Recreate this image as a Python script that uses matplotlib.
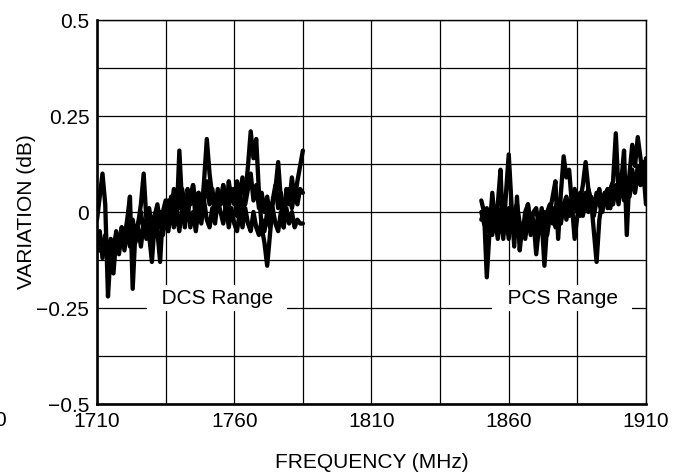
import numpy as np
import matplotlib
matplotlib.use("Agg")
import matplotlib.pyplot as plt

plt.rcParams['font.family'] = ['Liberation Sans', 'DejaVu Sans']

# ---------------- data ----------------
dcs_freq = np.arange(1710, 1786, 1)
dcs_a = [-0.02, 0.04, 0.10, 0.02, -0.22, -0.10, -0.16, -0.06, -0.10, -0.04,
         -0.07, -0.02, 0.04, -0.20, -0.05, -0.03, 0.02, 0.10, -0.02, -0.06,
         -0.13, -0.03, -0.05, -0.13, 0.00, -0.03, 0.03, 0.00, 0.06, -0.02,
         0.16, 0.02, -0.04, 0.06, 0.02, 0.07, -0.03, 0.05, -0.01, 0.08,
         0.19, 0.10, 0.04, 0.00, 0.06, 0.02, 0.07, -0.01, 0.08, 0.03,
         0.06, -0.01, 0.05, 0.00, 0.04, 0.12, 0.21, 0.14, 0.19, 0.05,
         -0.04, -0.08, -0.14, -0.06, 0.02, 0.06, 0.13, 0.03, -0.04, 0.06,
         0.02, 0.09, 0.03, 0.08, 0.12, 0.16]
dcs_b = [-0.10, -0.10, -0.09, -0.06, -0.11, -0.07, -0.10, -0.05, -0.09, -0.04,
         -0.08, -0.03, -0.07, -0.02, -0.06, -0.03, 0.00, -0.05, -0.02, 0.01,
         -0.04, -0.01, 0.02, -0.03, 0.00, 0.03, -0.02, 0.04, 0.00, 0.05,
         0.01, 0.06, 0.02, -0.01, 0.04, 0.07, 0.02, 0.05, 0.00, 0.03,
         0.08, 0.02, 0.06, 0.01, 0.05, 0.02, 0.07, 0.03, 0.01, 0.06,
         0.02, 0.08, 0.04, 0.09, 0.02, 0.06, 0.10, 0.03, 0.07, 0.01,
         0.05, 0.00, 0.04, -0.01, 0.03, 0.07, 0.01, 0.05, 0.00, 0.04,
         0.06, 0.01, 0.05, 0.02, 0.06, 0.05]
dcs_c = [-0.09, -0.05, -0.12, -0.07, -0.13, -0.08, -0.14, -0.06, -0.11, -0.05,
         -0.10, -0.04, -0.09, -0.03, -0.08, -0.04, -0.09, -0.03, -0.07, -0.02,
         -0.06, -0.01, -0.05, 0.00, -0.06, -0.01, -0.05, 0.01, -0.04, 0.00,
         -0.05, 0.01, -0.03, 0.02, -0.04, 0.00, -0.05, 0.01, -0.03, 0.03,
         -0.02, -0.04, 0.01, -0.03, 0.03, 0.00, -0.03, 0.02, -0.04, 0.01,
         -0.03, -0.05, 0.00, -0.04, 0.01, -0.03, -0.05, 0.00, -0.04, -0.06,
         -0.02, -0.05, 0.00, -0.04, 0.01, -0.03, -0.05, 0.00, -0.04, 0.01,
         -0.03, 0.00, -0.04, -0.02, -0.03, -0.03]

pcs_freq = np.arange(1850, 1911, 1)
pcs_a = [0.03, 0.00, -0.17, -0.05, 0.05, -0.03, 0.02, 0.11, -0.07, 0.05,
         0.15, 0.02, -0.09, 0.04, -0.10, -0.03, -0.06, 0.02, -0.05, -0.02,
         -0.11, -0.04, -0.02, -0.14, -0.03, 0.00, 0.04, 0.08, -0.07, 0.05,
         0.145, 0.09, 0.11, 0.02, -0.07, -0.01, 0.03, 0.07, 0.13, 0.06,
         0.03, -0.05, -0.13, -0.02, 0.03, 0.05, 0.02, 0.06, 0.08, 0.205,
         0.05, 0.08, 0.16, -0.06, 0.10, 0.175, 0.12, 0.195, 0.14, 0.08,
         0.14]
pcs_b = [0.00, -0.03, -0.05, 0.00, -0.06, -0.01, -0.07, -0.02, -0.06, -0.01,
         -0.07, -0.02, -0.06, -0.01, -0.08, -0.03, -0.07, -0.01, -0.06, -0.02,
         -0.07, -0.01, -0.05, 0.00, -0.06, -0.01, 0.01, -0.04, 0.02, -0.03,
         0.02, -0.02, 0.03, -0.01, 0.04, 0.00, -0.01, 0.03, 0.05, 0.00,
         0.04, 0.01, 0.05, 0.02, 0.00, 0.05, 0.01, 0.06, 0.02, 0.06,
         0.03, 0.07, 0.03, 0.08, 0.04, 0.09, 0.05, 0.10, 0.07, 0.11,
         0.02]
pcs_c = [-0.02, 0.00, 0.01, -0.04, 0.02, -0.03, 0.01, -0.04, 0.03, -0.02,
         0.01, -0.05, 0.00, 0.02, -0.03, -0.06, 0.00, 0.02, -0.04, 0.00,
         0.01, -0.04, 0.01, -0.05, 0.00, 0.02, -0.03, 0.01, 0.03, -0.02,
         0.02, 0.04, -0.01, 0.03, 0.06, 0.00, 0.05, -0.01, 0.03, 0.06,
         0.02, -0.01, 0.03, 0.06, 0.00, 0.04, 0.06, 0.01, 0.05, 0.07,
         0.02, 0.08, 0.04, 0.09, 0.05, 0.11, 0.06, 0.12, 0.08, 0.13,
         0.09]

x_ticks = [1710, 1760, 1810, 1860, 1910]
x_grid = [1710, 1735, 1760, 1785, 1810, 1835, 1860, 1885, 1910]
y_ticks = [-0.5, -0.25, 0, 0.25, 0.5]
y_tick_labels = ["\u22120.5", "\u22120.25", "0", "0.25", "0.5"]
y_grid = [-0.5, -0.375, -0.25, -0.125, 0, 0.125, 0.25, 0.375, 0.5]
range_labels = ["DCS Range", "PCS Range"]
range_label_x = [1753.7, 1879.5]
range_label_y = -0.224

# ---------------- figure ----------------
W, H = 676, 475
fig = plt.figure(figsize=(W / 100, H / 100), dpi=100)
ax = fig.add_axes([97 / W, 1 - 404 / H, (646 - 97) / W, (404 - 20) / H])

ax.set_xlim(1710, 1910)
ax.set_ylim(-0.5, 0.5)

for gx in x_grid:
    ax.axvline(gx, color='black', lw=0.9, zorder=1)
for gy in y_grid:
    ax.axhline(gy, color='black', lw=0.9, zorder=1)

for series in (dcs_b, dcs_c, dcs_a):
    ax.plot(dcs_freq, series, color='black', lw=3.1, solid_joinstyle='round',
            solid_capstyle='round', zorder=3)
for series in (pcs_b, pcs_c, pcs_a):
    ax.plot(pcs_freq, series, color='black', lw=3.1, solid_joinstyle='round',
            solid_capstyle='round', zorder=3)

for lab, lx in zip(range_labels, range_label_x):
    ax.text(lx, range_label_y, "  " + lab + "  ", fontsize=15, ha='center',
            va='center', zorder=4,
            bbox=dict(boxstyle='square,pad=0.15', fc='white', ec='none'))

ax.set_xticks(x_ticks)
ax.set_xticklabels([str(t) for t in x_ticks])
ax.set_yticks(y_ticks)
ax.set_yticklabels(y_tick_labels)
ax.tick_params(axis='both', length=0, labelsize=15)
ax.tick_params(axis='x', pad=6)
ax.tick_params(axis='y', pad=5.5)

for side in ('left', 'bottom'):
    ax.spines[side].set_linewidth(1.9)
for side in ('top', 'right'):
    ax.spines[side].set_linewidth(1.0)
for s in ax.spines.values():
    s.set_zorder(5)

fig.text(372 / W, 1 - 462 / H, "FREQUENCY (MHz)", fontsize=15,
         ha='center', va='center')
fig.text(27 / W, 1 - 212 / H, "VARIATION (dB)", fontsize=15,
         ha='center', va='center', rotation=90)
# partially visible stray label at the left edge, as in the reference
fig.text(6 / W, 1 - 420 / H, "0", fontsize=15, ha='right', va='center')

fig.savefig("out.png", dpi=100)
